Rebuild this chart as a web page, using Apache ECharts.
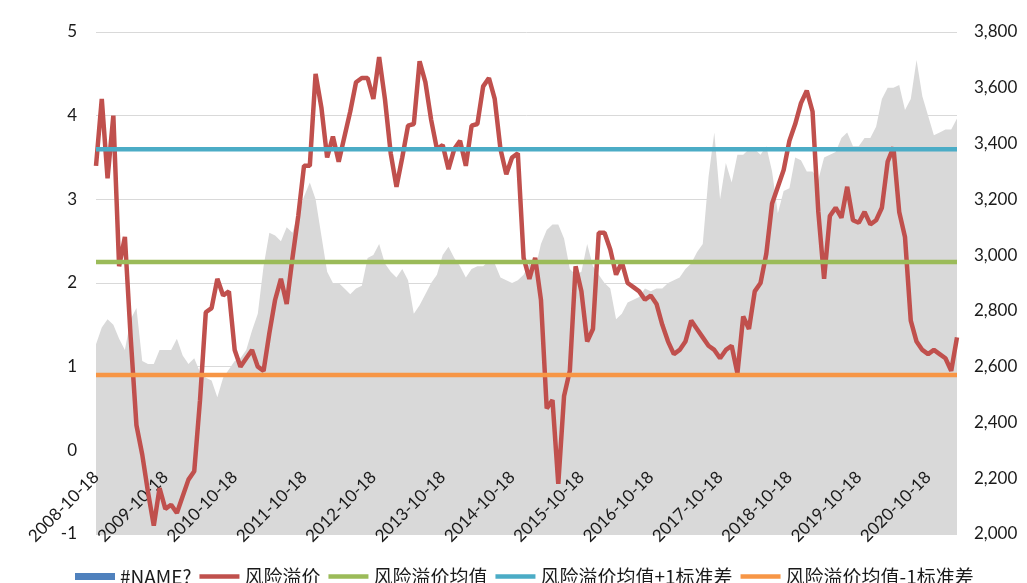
<!DOCTYPE html>
<html>
<head>
<meta charset="utf-8">
<title>风险溢价</title>
<script src="https://cdn.jsdelivr.net/npm/echarts@6/dist/echarts.min.js"></script>
<style type="text/css">
	html, body { margin: 0; padding: 0; background-color: #fff; }
	#riskChart { width: 1027px; height: 583px; }
</style>
</head>
<body>
<div id="riskChart"></div>

<script>
	// 月度日期，从 2008-10-18 开始
	var startYear = 2008, startMonth = 10, monthCount = 150;
	var dates = [];
	for (var k = 0; k < monthCount; k++) {
		var m = startMonth - 1 + k;
		var y = startYear + Math.floor(m / 12);
		var mm = (m % 12) + 1;
		dates.push(y + '-' + (mm < 10 ? '0' + mm : mm) + '-18');
	}

	// 风险溢价（左轴）
	var riskPremium = [
		3.4, 4.2, 3.25, 4.0, 2.2, 2.55, 1.35, 0.3, -0.05, -0.5,
		-0.9, -0.45, -0.7, -0.65, -0.75, -0.55, -0.35, -0.25, 0.6, 1.65,
		1.7, 2.05, 1.85, 1.9, 1.2, 1.0, 1.1, 1.2, 1.0, 0.95,
		1.4, 1.8, 2.05, 1.75, 2.3, 2.8, 3.4, 3.4, 4.5, 4.1,
		3.5, 3.75, 3.45, 3.75, 4.05, 4.4, 4.45, 4.45, 4.2, 4.7,
		4.2, 3.55, 3.15, 3.5, 3.88, 3.9, 4.65, 4.4, 3.95, 3.6,
		3.65, 3.36, 3.6, 3.7, 3.4, 3.88, 3.9, 4.35, 4.45, 4.2,
		3.6, 3.3, 3.5, 3.55, 2.3, 2.05, 2.3, 1.8, 0.5, 0.6,
		-0.4, 0.65, 0.95, 2.2, 1.9, 1.3, 1.45, 2.6, 2.6, 2.4,
		2.1, 2.25, 2.0, 1.95, 1.9, 1.8, 1.85, 1.75, 1.5, 1.3,
		1.15, 1.2, 1.3, 1.55, 1.45, 1.35, 1.25, 1.2, 1.1, 1.2,
		1.25, 0.92, 1.6, 1.45, 1.9, 2.0, 2.35, 2.95, 3.15, 3.35,
		3.7, 3.9, 4.15, 4.3, 4.05, 2.85, 2.05, 2.8, 2.9, 2.78,
		3.15, 2.75, 2.72, 2.85, 2.7, 2.75, 2.9, 3.45, 3.62, 2.85,
		2.55, 1.55, 1.3, 1.2, 1.15, 1.2, 1.15, 1.1, 0.95, 1.35
	];

	// 指数（右轴，灰色面积）
	var indexLevel = [
		2680, 2740, 2770, 2750, 2700, 2660, 2770, 2810, 2620, 2610,
		2610, 2660, 2660, 2660, 2700, 2640, 2610, 2630, 2580, 2560,
		2550, 2490, 2560, 2590, 2620, 2630, 2660, 2730, 2790, 2960,
		3080, 3070, 3050, 3100, 3080, 3150, 3210, 3260, 3200, 3070,
		2940, 2900, 2900, 2880, 2860, 2880, 2890, 2990, 3000, 3040,
		2970, 2940, 2920, 2950, 2910, 2790, 2820, 2860, 2900, 2930,
		3000, 3030, 2990, 2960, 2920, 2950, 2960, 2960, 2980, 2970,
		2920, 2910, 2900, 2910, 2930, 2970, 2950, 3040, 3090, 3110,
		3110, 3060, 2950, 2930, 2940, 3040, 2960, 2930, 2900, 2880,
		2770, 2790, 2830, 2840, 2850, 2880, 2870, 2880, 2880, 2900,
		2910, 2920, 2950, 2970, 3010, 3040, 3280, 3440, 3200, 3330,
		3260, 3360, 3360, 3380, 3380, 3360, 3390, 3300, 3150, 3230,
		3240, 3350, 3340, 3300, 3300, 3270, 3350, 3360, 3370, 3420,
		3440, 3390, 3390, 3420, 3420, 3460, 3560, 3600, 3600, 3610,
		3520, 3560, 3700, 3570, 3500, 3430, 3440, 3450, 3450, 3490
	];

	// 均值与 ±1 标准差
	var meanValue = 2.25;
	var upperValue = 3.60;
	var lowerValue = 0.90;

	var leftTicks = { min: -1, max: 5, interval: 1 };
	var rightTicks = { min: 2000, max: 3800, interval: 200 };

	var labelFont = 'Lato, "Noto Sans", sans-serif';
	var legendFont = '"Noto Sans CJK SC", "Noto Sans", sans-serif';
	var lineIcon = 'path://M0,0H40V4.5H0Z';

	function flatLine(v) {
		return [[dates[0], v], [dates[dates.length - 1], v]];
	}

	var chart = echarts.init(document.getElementById('riskChart'));
	var plotTop = 32, plotBottom = 49, plotHeight = 583 - plotTop - plotBottom;
	// 横轴标签放在左轴 0 的位置
	var zeroOffset = -plotHeight * (0 - leftTicks.min) / (leftTicks.max - leftTicks.min);

	var options = {
		animation: false,
		backgroundColor: '#fff',
		grid: {
			left: 96, right: 70, top: plotTop, bottom: plotBottom,
			containLabel: false,
			outerBoundsMode: 'none'
		},
		legend: {
			left: 70,
			top: 562,
			itemWidth: 40,
			itemHeight: 7,
			itemGap: 8,
			textStyle: { fontSize: 19, color: '#1a1a1a', fontFamily: legendFont },
			data: [
				{ name: '#NAME?', icon: 'rect', itemStyle: { color: '#4f81bd' } },
				{ name: '风险溢价', icon: lineIcon },
				{ name: '风险溢价均值', icon: lineIcon },
				{ name: '风险溢价均值+1标准差', icon: lineIcon },
				{ name: '风险溢价均值-1标准差', icon: lineIcon }
			]
		},
		xAxis: {
			type: 'category',
			boundaryGap: false,
			data: dates,
			z: 2,
			position: 'bottom',
			offset: zeroOffset,
			axisLine: { show: false, onZero: false },
			axisTick: { show: false },
			splitLine: { show: false },
			axisLabel: {
				interval: 11,
				rotate: 45,
				margin: 24,
				fontSize: 17,
				color: '#1a1a1a',
				fontFamily: labelFont
			}
		},
		yAxis: [{
			type: 'value',
			min: leftTicks.min,
			max: leftTicks.max,
			interval: leftTicks.interval,
			axisLine: { show: false },
			axisTick: { show: false },
			axisLabel: { margin: 19, fontSize: 17, color: '#1a1a1a', fontFamily: labelFont },
			splitLine: { lineStyle: { color: '#d9d9d9', width: 1 } }
		}, {
			type: 'value',
			min: rightTicks.min,
			max: rightTicks.max,
			interval: rightTicks.interval,
			axisLine: { show: false },
			axisTick: { show: false },
			splitLine: { show: false },
			axisLabel: {
				margin: 17,
				fontSize: 17,
				color: '#1a1a1a',
				fontFamily: labelFont,
				formatter: function (v) { return v.toLocaleString('en-US'); }
			}
		}],
		series: [{
			name: '#NAME?',
			type: 'line',
			yAxisIndex: 1,
			symbol: 'none',
			z: 1,
			lineStyle: { width: 0, color: '#d9d9d9' },
			itemStyle: { color: '#d9d9d9' },
			areaStyle: { color: '#d9d9d9', opacity: 1, origin: 'start' },
			data: indexLevel
		}, {
			name: '风险溢价',
			type: 'line',
			yAxisIndex: 0,
			symbol: 'none',
			z: 3,
			lineStyle: { width: 4.5, color: '#c0504d' },
			itemStyle: { color: '#c0504d' },
			data: riskPremium
		}, {
			name: '风险溢价均值',
			type: 'line',
			symbol: 'none',
			z: 4,
			lineStyle: { width: 4.5, color: '#9bbb59' },
			itemStyle: { color: '#9bbb59' },
			data: flatLine(meanValue)
		}, {
			name: '风险溢价均值+1标准差',
			type: 'line',
			symbol: 'none',
			z: 4,
			lineStyle: { width: 4.5, color: '#4bacc6' },
			itemStyle: { color: '#4bacc6' },
			data: flatLine(upperValue)
		}, {
			name: '风险溢价均值-1标准差',
			type: 'line',
			symbol: 'none',
			z: 4,
			lineStyle: { width: 4.5, color: '#f79646' },
			itemStyle: { color: '#f79646' },
			data: flatLine(lowerValue)
		}]
	};
	chart.setOption(options);
</script>
</body>
</html>
